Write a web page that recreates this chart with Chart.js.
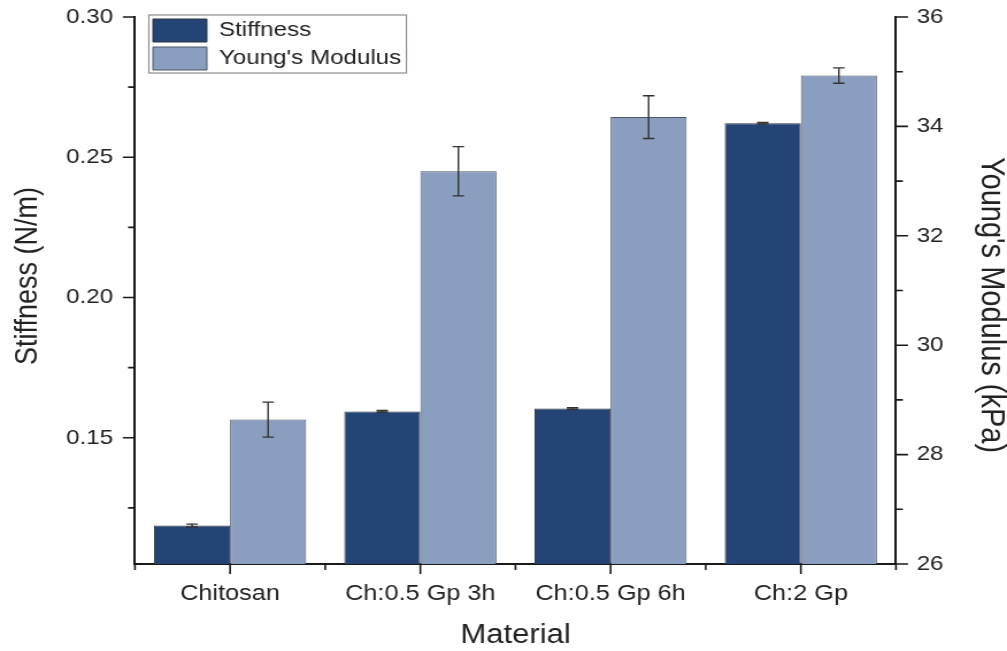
<!DOCTYPE html>
<html>
<head>
<meta charset="utf-8">
<script src="https://cdn.jsdelivr.net/npm/chart.js@4.4.1/dist/chart.umd.min.js"></script>
<style>
  html, body { margin: 0; padding: 0; background: #fff; overflow: hidden; }
  #chart { display: block; }
</style>
</head>
<body>
<canvas id="chart" width="876" height="651" style="width:1007px;height:651px"></canvas>
<script>
// data
const materials = ["Chitosan", "Ch:0.5 Gp 3h", "Ch:0.5 Gp 6h", "Ch:2 Gp"];
const stiffness = [0.1187, 0.1594, 0.1604, 0.2621];
const stiffnessErr = [0.0005, 0.0003, 0.0003, 0.0003];
const youngs = [28.64, 33.18, 34.17, 34.93];
const youngsErr = [0.32, 0.45, 0.39, 0.14];
const stiffnessTicks = [0.15, 0.2, 0.25, 0.3];
const youngsTicks = [26, 28, 30, 32, 34, 36];

const FONT = "'Liberation Sans', Arial, sans-serif";
const TEXT = "#222";
const AXIS = "#1a1a1a";

const isMajor = (list, v) => list.some((t) => Math.abs(t - v) < 1e-6);

// minor/major tick marks like the original plot
const tickMarks = {
  id: "tickMarks",
  afterDraw(chart) {
    const ctx = chart.ctx;
    const area = chart.chartArea;
    const y = chart.scales.y;
    const y1 = chart.scales.y1;
    const x = chart.scales.x;
    ctx.save();
    ctx.strokeStyle = AXIS;
    ctx.lineWidth = 1.6;
    ctx.beginPath();
    for (const t of y.ticks) {
      const py = y.getPixelForValue(t.value);
      const len = isMajor(stiffnessTicks, t.value) ? 10.5 : 6;
      ctx.moveTo(area.left - len, py);
      ctx.lineTo(area.left, py);
    }
    for (const t of y1.ticks) {
      const py = y1.getPixelForValue(t.value);
      const len = isMajor(youngsTicks, t.value) ? 10.5 : 6;
      ctx.moveTo(area.right, py);
      ctx.lineTo(area.right + len, py);
    }
    for (let i = 0; i < materials.length; i++) {
      const px = x.getPixelForValue(i);
      ctx.moveTo(px, area.bottom);
      ctx.lineTo(px, area.bottom + 10);
    }
    for (let i = 0; i <= materials.length; i++) {
      const px = x.getPixelForValue(i - 0.5);
      ctx.moveTo(px, area.bottom);
      ctx.lineTo(px, area.bottom + 6);
    }
    ctx.stroke();
    ctx.restore();
  },
};

const errorBars = {
  id: "errorBars",
  afterDatasetsDraw(chart) {
    const ctx = chart.ctx;
    ctx.save();
    ctx.strokeStyle = "#333";
    ctx.lineWidth = 1.4;
    chart.data.datasets.forEach((ds, di) => {
      const meta = chart.getDatasetMeta(di);
      const scale = chart.scales[ds.yAxisID];
      meta.data.forEach((bar, i) => {
        const v = ds.data[i];
        const e = ds.errors[i];
        const top = scale.getPixelForValue(v + e);
        const bot = scale.getPixelForValue(v - e);
        ctx.beginPath();
        ctx.moveTo(bar.x, top);
        ctx.lineTo(bar.x, bot);
        ctx.moveTo(bar.x - 5, top);
        ctx.lineTo(bar.x + 5, top);
        ctx.moveTo(bar.x - 5, bot);
        ctx.lineTo(bar.x + 5, bot);
        ctx.stroke();
      });
    });
    ctx.restore();
  },
};

// nudge the legend and frame it
const legendFrame = {
  id: "legendFrame",
  afterLayout(chart) {
    chart.legend.left = chart.chartArea.left + 10.6;
    chart.legend.top = chart.chartArea.top - 3;
  },
  afterDraw(chart) {
    const boxes = chart.legend.legendHitBoxes;
    if (!boxes || !boxes.length) return;
    let l = Infinity, t = Infinity, r = -Infinity, b = -Infinity;
    for (const h of boxes) {
      l = Math.min(l, h.left);
      t = Math.min(t, h.top);
      r = Math.max(r, h.left + h.width);
      b = Math.max(b, h.top + h.height);
    }
    const ctx = chart.ctx;
    ctx.save();
    ctx.strokeStyle = "#8c8c8c";
    ctx.lineWidth = 1.2;
    ctx.strokeRect(l - 3.5, t - 4, r - l + 8, b - t + 7);
    ctx.restore();
  },
};

const yTitles = {
  id: "yTitles",
  afterDraw(chart) {
    const ctx = chart.ctx;
    ctx.save();
    ctx.fillStyle = TEXT;
    ctx.textAlign = "center";
    ctx.textBaseline = "middle";
    ctx.font = "27px " + FONT;
    ctx.translate(24.4, 276);
    ctx.rotate(-Math.PI / 2);
    ctx.fillText("Stiffness (N/m)", 0, 0);
    ctx.restore();
    ctx.save();
    ctx.fillStyle = TEXT;
    ctx.textAlign = "center";
    ctx.textBaseline = "middle";
    ctx.font = "29px " + FONT;
    ctx.translate(862, 305);
    ctx.rotate(Math.PI / 2);
    ctx.fillText("Young's Modulus (kPa)", 0, 0);
    ctx.restore();
  },
};

const fitSide = (w) => (s) => {
  s.width = w;
  s.paddingTop = 0;
  s.paddingBottom = 0;
};

new Chart(document.getElementById("chart"), {
  type: "bar",
  data: {
    labels: materials,
    datasets: [
      {
        label: "Stiffness",
        data: stiffness,
        errors: stiffnessErr,
        yAxisID: "y",
        backgroundColor: "#244476",
        borderColor: "#2e3440",
        borderWidth: 1,
      },
      {
        label: "Young's Modulus",
        data: youngs,
        errors: youngsErr,
        yAxisID: "y1",
        backgroundColor: "#8a9ec0",
        borderColor: "#4d5563",
        borderWidth: 1,
      },
    ],
  },
  options: {
    responsive: false,
    devicePixelRatio: 1,
    animation: false,
    layout: { padding: { top: 17, left: 0, right: 0, bottom: 0 } },
    datasets: {
      bar: { categoryPercentage: 0.8, barPercentage: 1.0 },
    },
    plugins: {
      legend: {
        position: "chartArea",
        align: "start",
        labels: {
          boxWidth: 47,
          boxHeight: 23,
          padding: 5,
          color: TEXT,
          font: { family: FONT, size: 21 },
        },
      },
      tooltip: { enabled: false },
    },
    scales: {
      x: {
        grid: { display: true, drawOnChartArea: false, drawTicks: false },
        border: { display: true, color: AXIS, width: 2 },
        ticks: {
          padding: 17,
          color: TEXT,
          font: { family: FONT, size: 22 },
        },
        title: {
          display: true,
          text: "Material",
          color: TEXT,
          font: { family: FONT, size: 27, lineHeight: 1 },
          padding: { top: 0, bottom: 2 },
        },
        afterFit: (s) => {
          s.height = 87;
          s.paddingLeft = 0;
          s.paddingRight = 0;
        },
      },
      y: {
        position: "left",
        min: 0.105,
        max: 0.3,
        grid: { display: true, drawOnChartArea: false, drawTicks: false },
        border: { display: true, color: AXIS, width: 2 },
        ticks: {
          stepSize: 0.025,
          includeBounds: false,
          padding: 19,
          color: TEXT,
          font: { family: FONT, size: 21 },
          callback: (v) => (isMajor(stiffnessTicks, v) ? v.toFixed(2) : ""),
        },
        afterFit: fitSide(117.4),
      },
      y1: {
        position: "right",
        min: 26,
        max: 36,
        grid: { display: true, drawOnChartArea: false, drawTicks: false },
        border: { display: true, color: AXIS, width: 2 },
        ticks: {
          stepSize: 1,
          padding: 18,
          color: TEXT,
          font: { family: FONT, size: 21 },
          callback: (v) => (isMajor(youngsTicks, v) ? String(v) : ""),
        },
        afterFit: fitSide(96.6),
      },
    },
  },
  plugins: [tickMarks, errorBars, legendFrame, yTitles],
});
</script>
</body>
</html>
